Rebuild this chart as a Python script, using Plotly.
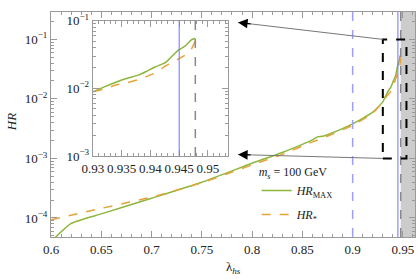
import plotly.graph_objects as go

# ---- data ----
lam_max = [0.600, 0.620, 0.650, 0.700, 0.750, 0.800, 0.830, 0.860, 0.865, 0.870, 0.875,
           0.900, 0.920, 0.930, 0.932, 0.934, 0.936, 0.938, 0.9392, 0.9409, 0.9426,
           0.9437, 0.9448, 0.9460, 0.9471, 0.9478]
hr_max = [4.0e-5, 8.1e-5, 1.17e-4, 2.14e-4, 3.98e-4, 8.3e-4, 1.26e-3, 2.05e-3, 2.3e-3, 2.35e-3, 2.5e-3,
          3.8e-3, 6.0e-3, 8.9e-3, 1.05e-2, 1.23e-2, 1.41e-2, 1.58e-2, 1.76e-2, 2.09e-2, 2.4e-2,
          2.95e-2, 3.65e-2, 4.2e-2, 5.2e-2, 5.5e-2]

lam_star = [0.600, 0.650, 0.700, 0.750, 0.800, 0.830, 0.860, 0.870, 0.900, 0.920, 0.930,
            0.932, 0.934, 0.936, 0.938, 0.9392, 0.9409, 0.9426, 0.9437, 0.9448, 0.9460,
            0.9471, 0.9478]
hr_star = [9.3e-5, 1.45e-4, 2.24e-4, 3.9e-4, 7.8e-4, 1.17e-3, 1.9e-3, 2.19e-3, 3.6e-3, 5.75e-3, 8.9e-3,
           9.8e-3, 1.12e-2, 1.21e-2, 1.35e-2, 1.48e-2, 1.70e-2, 2.14e-2, 2.4e-2, 2.7e-2, 3.1e-2,
           3.8e-2, 5.0e-2]

main_xticks = [0.6, 0.65, 0.7, 0.75, 0.8, 0.85, 0.9, 0.95]
main_xticklabels = ["0.6", "0.65", "0.7", "0.75", "0.8", "0.85", "0.9", "0.95"]
main_yticks = [1e-4, 1e-3, 1e-2, 1e-1]
main_yticklabels = ["10<sup>−4</sup>", "10<sup>−3</sup>", "10<sup>−2</sup>", "10<sup>−1</sup>"]
inset_xticks = [0.93, 0.935, 0.94, 0.945, 0.95]
inset_xticklabels = ["0.93", "0.935", "0.94", "0.945", "0.95"]
inset_yticks = [1e-3, 1e-2, 1e-1]
inset_yticklabels = ["10<sup>−3</sup>", "10<sup>−2</sup>", "10<sup>−1</sup>"]

lam_vline = 0.945        # solid blue line
lam_dashed = 0.90        # dashed blue line
lam_excluded = 0.9478    # start of grey excluded band
zoom_box_x = [0.93, 0.9535]
zoom_box_y = [1e-3, 1e-1]

GREEN = "#8db63c"
ORANGE = "#e5a33a"
FONT = "Liberation Serif"
FRAME = "#9a9a9a"

fig = go.Figure()

for xa, ya, show in [("x", "y", True), ("x2", "y2", False)]:
    fig.add_trace(go.Scatter(x=lam_max, y=hr_max, mode="lines", xaxis=xa, yaxis=ya, legendgroup="max",
                             line=dict(color=GREEN, width=1.5, shape="spline", smoothing=0.5),
                             name="<i>HR</i><sub>MAX</sub>", showlegend=show))
    fig.add_trace(go.Scatter(x=lam_star, y=hr_star, mode="lines", xaxis=xa, yaxis=ya, legendgroup="star",
                             line=dict(color=ORANGE, width=1.5, dash="dash", shape="spline", smoothing=0.5),
                             name="<i>HR</i><sub>*</sub>", showlegend=show))

main_xrange = [0.6, 0.962]
inset_xrange = [0.93, 0.9535]

axis_common = dict(showline=True, linecolor=FRAME, linewidth=1, mirror="allticks",
                   ticks="inside", tickcolor=FRAME, ticklen=6, showgrid=False, zeroline=False,
                   automargin=False, tickfont=dict(family=FONT, size=13, color="#222"))

fig.update_layout(
    width=417, height=279,
    margin=dict(l=51, r=2, t=12, b=42, autoexpand=False),
    paper_bgcolor="white", plot_bgcolor="white",
    font=dict(family=FONT, size=13, color="#222"),
    xaxis=dict(domain=[0, 1], range=main_xrange, tickvals=main_xticks, ticktext=main_xticklabels,
               minor=dict(ticks="inside", ticklen=3, tickcolor=FRAME, dtick=0.01, tick0=0.6),
               **axis_common),
    yaxis=dict(domain=[0, 1], type="log", range=[-4.32, -0.54], tickvals=main_yticks,
               ticktext=main_yticklabels,
               minor=dict(ticks="inside", ticklen=3, tickcolor=FRAME, dtick="D1"),
               **axis_common),
    xaxis2=dict(domain=[0.1147, 0.4867], anchor="y2", range=inset_xrange, tickvals=inset_xticks,
                ticktext=inset_xticklabels,
                minor=dict(ticks="inside", ticklen=3, tickcolor=FRAME, dtick=0.001, tick0=0.93),
                **axis_common),
    yaxis2=dict(domain=[0.36, 0.9613], anchor="x2", type="log", range=[-3, -1], tickvals=inset_yticks,
                ticktext=inset_yticklabels,
                minor=dict(ticks="inside", ticklen=3, tickcolor=FRAME, dtick="D1"),
                **axis_common),
    legend=dict(x=0.565, y=0.34, xanchor="left", yanchor="top", bgcolor="rgba(0,0,0,0)",
                title=dict(text="<i>m</i><sub><i>s</i></sub> = 100 GeV", font=dict(family=FONT, size=12)),
                font=dict(family=FONT, size=12), itemwidth=30, tracegroupgap=5),
)

# axis titles
fig.add_annotation(text="λ<sub><i>hs</i></sub>", xref="paper", yref="paper", x=0.5, y=-0.135,
                   xanchor="center", yanchor="middle", showarrow=False, font=dict(family=FONT, size=13))
fig.add_annotation(text="<i>HR</i>", xref="paper", yref="paper", x=-0.11, y=0.51, textangle=-90,
                   xanchor="center", yanchor="middle", showarrow=False, font=dict(family=FONT, size=13))

shapes = []
shapes.append(dict(type="rect", xref="x2 domain", yref="y2 domain", x0=0, x1=1, y0=0, y1=1,
                   fillcolor="white", line=dict(width=0), layer="below"))
for xa, ya, xr in [("x", "y", main_xrange), ("x2", "y2", inset_xrange)]:
    shapes.append(dict(type="rect", xref=xa, yref=f"{ya} domain", x0=lam_excluded, x1=xr[1],
                       y0=0, y1=1, fillcolor="#cccccc", line=dict(width=0), layer="below"))
    shapes.append(dict(type="line", xref=xa, yref=f"{ya} domain", x0=lam_excluded, x1=lam_excluded,
                       y0=0, y1=1, line=dict(color="#888888", width=1.5, dash="dash")))
    shapes.append(dict(type="line", xref=xa, yref=f"{ya} domain", x0=lam_vline, x1=lam_vline,
                       y0=0, y1=1, line=dict(color="#7070ff", width=1)))
shapes.append(dict(type="line", xref="x", yref="y domain", x0=lam_dashed, x1=lam_dashed, y0=0, y1=1,
                   line=dict(color="#9d9dff", width=1.5, dash="dash")))
shapes.append(dict(type="rect", xref="x", yref="y", x0=zoom_box_x[0], x1=zoom_box_x[1],
                   y0=zoom_box_y[0], y1=zoom_box_y[1], line=dict(color="black", width=2, dash="dash")))
fig.update_layout(shapes=shapes)

# arrows from the zoom box corners to the inset (tip positions in main-axis coordinates)
arrow_tips = [(0.786, -0.715, zoom_box_y[1], 1.6), (0.786, -2.935, zoom_box_y[0], 0.4)]
for tx, ty, corner, dy in arrow_tips:
    fig.add_shape(type="line", xref="x", yref="y", x0=zoom_box_x[0], y0=corner, x1=tx, y1=10 ** ty,
                  line=dict(color="#777777", width=1))
    fig.add_annotation(x=tx, y=ty, xref="x", yref="y", ax=14, ay=dy, showarrow=True,
                       arrowhead=2, arrowsize=1.6, arrowwidth=1.2, arrowcolor="black", text="")

fig.write_html("out.html", config={"displayModeBar": False},
               post_script="document.body.style.margin='0px';document.body.style.padding='0px';")
